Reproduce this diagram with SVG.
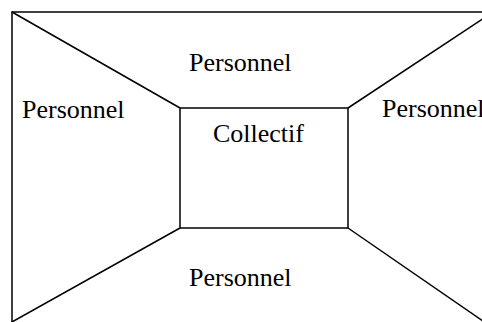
<svg xmlns="http://www.w3.org/2000/svg" width="482" height="322" viewBox="0 0 482 322">
<style>
.ln{fill:none;stroke:#000;stroke-width:1.5}
.t{font-family:"Liberation Serif","Times New Roman",serif;font-size:26px;fill:#000}
</style>
<rect width="482" height="322" fill="#fff"/>
<g id="outer"><rect class="ln" x="12" y="12" width="481" height="311"/></g>
<g id="connectors">
<line class="ln" x1="12" y1="12" x2="180" y2="108"/>
<line class="ln" x1="348" y1="108" x2="493" y2="12"/>
<line class="ln" x1="180" y1="228" x2="12" y2="322"/>
<line class="ln" x1="348" y1="228" x2="493" y2="328"/>
</g>
<g id="collectif"><rect class="ln" x="180" y="108" width="168" height="120"/><text class="t" x="213" y="142">Collectif</text></g>
<g id="personnel-top"><text class="t" x="189" y="71">Personnel</text></g>
<g id="personnel-left"><text class="t" x="22" y="118">Personnel</text></g>
<g id="personnel-right"><text class="t" x="382" y="117">Personnel</text></g>
<g id="personnel-bottom"><text class="t" x="189" y="286">Personnel</text></g>
</svg>
